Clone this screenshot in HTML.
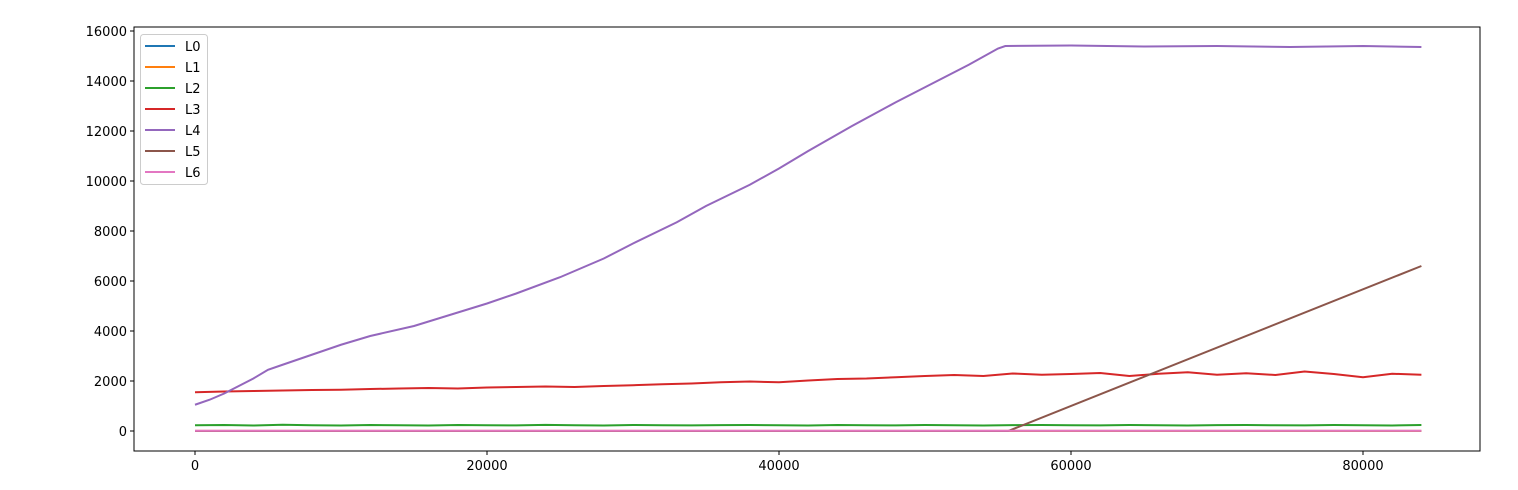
<!DOCTYPE html>
<html><head><meta charset="utf-8"><style>
body{margin:0;background:#fff;font-family:"Liberation Sans","DejaVu Sans",sans-serif}
svg text{font-family:"DejaVu Sans","Liberation Sans",sans-serif;font-size:13px;fill:#000}
</style></head><body>
<svg id="chart" width="1518" height="485"></svg>
<script>
const xTicks=[0,20000,40000,60000,80000];
const yTicks=[0,2000,4000,6000,8000,10000,12000,14000,16000];
const seriesNames=["L0","L1","L2","L3","L4","L5","L6"];
const colors=["#1f77b4","#ff7f0e","#2ca02c","#d62728","#9467bd","#8c564b","#e377c2"];
const xs2k=[0,2000,4000,6000,8000,10000,12000,14000,16000,18000,20000,22000,24000,26000,28000,30000,32000,34000,36000,38000,40000,42000,44000,46000,48000,50000,52000,54000,56000,58000,60000,62000,64000,66000,68000,70000,72000,74000,76000,78000,80000,82000,84000];
const L0=xs2k.map(()=>0);
const L1=xs2k.map(()=>5);
const L6=xs2k.map(()=>10);
const L2=[230,240,220,250,230,220,240,230,220,240,230,225,245,230,220,240,230,225,235,240,230,220,240,230,225,240,230,220,235,240,230,225,240,230,220,235,240,230,225,240,230,220,240];
const L3=[1550,1580,1600,1620,1640,1650,1680,1700,1720,1700,1740,1760,1780,1760,1800,1830,1870,1900,1950,1980,1950,2020,2080,2100,2150,2200,2240,2200,2300,2250,2280,2320,2200,2290,2350,2250,2310,2240,2380,2280,2150,2290,2250];
const L4x=[0,1000,2000,3000,4000,5000,6000,8000,10000,12000,15000,20000,22000,25000,28000,30000,33000,35000,38000,40000,42000,45000,48000,50000,53000,55000,55500,60000,65000,70000,75000,80000,84000];
const L4=[1050,1250,1500,1800,2100,2450,2650,3050,3450,3800,4200,5100,5500,6150,6900,7500,8350,9000,9850,10500,11200,12200,13150,13750,14650,15300,15400,15420,15380,15400,15360,15400,15360];
const L5x=[0,55700,84000];
const L5=[0,0,6600];
const L=134,R=1480,T=27,B=451;
const X=v=>195+(v/20000)*292;
const Y=v=>431-(v/2000)*50;
const svg=document.getElementById('chart');
const NS="http://www.w3.org/2000/svg";
function mk(t,a){const e=document.createElementNS(NS,t);for(const k in a)e.setAttribute(k,a[k]);svg.appendChild(e);return e;}
// ticks
xTicks.forEach(v=>{
 const l=mk('line',{x1:X(v),x2:X(v),y1:B,y2:B+4,stroke:'#000'});
 
 
 const t=mk('text',{x:X(v),y:B+19,'text-anchor':'middle'});t.textContent=v;
 
 
});
yTicks.forEach(v=>{
 const l=mk('line',{x1:L-4,x2:L,y1:Y(v),y2:Y(v),stroke:'#000'});
 
 
 const t=mk('text',{x:L-7,y:Y(v)+5,'text-anchor':'end'});t.textContent=v;
 
 
});
const data=[[xs2k,L0],[xs2k,L1],[xs2k,L2],[xs2k,L3],[L4x,L4],[L5x,L5],[xs2k,L6]];
data.forEach((d,i)=>{
 const p=mk('polyline',{points:d[0].map((x,j)=>X(x)+','+Y(d[1][j])).join(' '),fill:'none',stroke:colors[i],'stroke-width':2});
 
 
});
const frame=mk('rect',{x:L,y:T,width:R-L,height:B-T,fill:'none',stroke:'#000','stroke-width':1});


const lg=mk('rect',{x:140.5,y:34.5,width:67,height:150,rx:3,fill:'#fff','fill-opacity':0.8,stroke:'#ccc'});


seriesNames.forEach((n,i)=>{
 const y=46+i*21;
 const l=mk('line',{x1:145,x2:175,y1:y,y2:y,stroke:colors[i],'stroke-width':2});
 
 
 const t=mk('text',{x:185,y:y+5});t.textContent=n;
 
 
});
</script>
</body></html>
